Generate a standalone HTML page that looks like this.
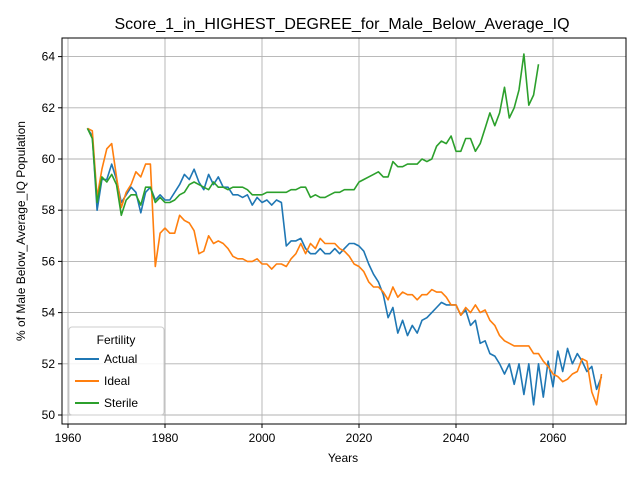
<!DOCTYPE html>
<html><head><meta charset="utf-8"><style>
body{margin:0;background:#fff;font-family:"Liberation Sans","DejaVu Sans",sans-serif}
svg{display:block}
</style></head><body>
<svg id="chart" width="640" height="480" xmlns="http://www.w3.org/2000/svg" font-family="Liberation Sans, DejaVu Sans, sans-serif">
<rect width="640" height="480" fill="#fff"/>
<text x="342" y="29" text-anchor="middle" font-size="16">Score_1_in_HIGHEST_DEGREE_for_Male_Below_Average_IQ</text>
<g id="grid"></g><g id="lines"></g><g id="axes"></g>
<text x="343" y="462" text-anchor="middle" font-size="12">Years</text>
<text transform="translate(25,231) rotate(-90)" text-anchor="middle" font-size="12">% of Male Below_Average_IQ Population</text>
<g>
<rect x="69" y="327" width="95" height="88" rx="3" fill="#fff" fill-opacity="0.85" stroke="#ccc"/>
<text x="116" y="344" text-anchor="middle" font-size="12">Fertility</text>
<g><line x1="75" y1="359" x2="99" y2="359" stroke="#1f77b4" stroke-width="2"/><text x="104" y="363" font-size="12">Actual</text></g>
<g><line x1="75" y1="381" x2="99" y2="381" stroke="#ff7f0e" stroke-width="2"/><text x="104" y="385" font-size="12">Ideal</text></g>
<g><line x1="75" y1="403" x2="99" y2="403" stroke="#2ca02c" stroke-width="2"/><text x="104" y="407" font-size="12">Sterile</text></g>
</g>
</svg>
<script>
const xTicks=[1960,1980,2000,2020,2040,2060];
const yTicks=[50,52,54,56,58,60,62,64];
const startYear=1964;
const actual=[61.2,60.9,58.0,59.2,59.2,59.8,59.2,58.3,58.6,58.9,58.7,57.9,58.7,58.9,58.4,58.6,58.4,58.4,58.7,59.0,59.4,59.2,59.6,59.1,58.8,59.4,59.0,59.3,58.9,58.9,58.6,58.6,58.5,58.6,58.2,58.5,58.3,58.4,58.2,58.4,58.3,56.6,56.8,56.8,56.9,56.5,56.3,56.3,56.5,56.3,56.3,56.5,56.3,56.5,56.7,56.7,56.6,56.4,55.9,55.5,55.2,54.7,53.8,54.2,53.2,53.7,53.1,53.5,53.2,53.7,53.8,54.0,54.2,54.4,54.3,54.3,54.3,53.9,54.1,53.5,53.7,52.8,52.9,52.4,52.3,52.0,51.6,52.0,51.2,52.0,50.8,52.0,50.4,52.0,50.7,52.1,51.1,52.5,51.7,52.6,52.0,52.4,52.1,51.7,51.9,51.0,51.5];
const ideal=[61.2,61.1,58.5,59.6,60.4,60.6,59.3,58.1,58.7,59.0,59.5,59.3,59.8,59.8,55.8,57.1,57.3,57.1,57.1,57.8,57.6,57.5,57.2,56.3,56.4,57.0,56.7,56.8,56.7,56.5,56.2,56.1,56.1,56.0,56.0,56.1,55.9,55.9,55.7,55.9,55.9,55.8,56.1,56.3,56.7,56.3,56.7,56.5,56.9,56.7,56.7,56.7,56.5,56.4,56.2,55.9,55.8,55.6,55.2,55.0,55.0,54.8,54.5,55.0,54.6,54.8,54.7,54.7,54.5,54.7,54.7,54.9,54.8,54.8,54.6,54.3,54.3,53.9,54.2,54.0,54.3,54.0,54.1,53.7,53.5,53.1,52.9,52.8,52.7,52.7,52.7,52.7,52.4,52.4,52.1,51.9,51.6,51.5,51.3,51.4,51.6,51.7,52.2,52.1,50.9,50.4,51.6];
const sterile=[61.2,60.8,58.3,59.3,59.1,59.4,59.0,57.8,58.4,58.6,58.6,58.2,58.9,58.9,58.3,58.5,58.3,58.3,58.4,58.6,58.7,59.0,59.1,59.0,58.9,58.8,59.1,58.9,58.9,58.8,58.9,58.9,58.9,58.8,58.6,58.6,58.6,58.7,58.7,58.7,58.7,58.7,58.8,58.8,58.9,58.9,58.5,58.6,58.5,58.5,58.6,58.7,58.7,58.8,58.8,58.8,59.1,59.2,59.3,59.4,59.5,59.3,59.3,59.9,59.7,59.7,59.8,59.8,59.8,60.0,59.9,60.0,60.5,60.7,60.6,60.9,60.3,60.3,60.8,60.8,60.3,60.6,61.2,61.8,61.3,61.8,62.8,61.6,62.0,62.7,64.1,62.1,62.5,63.7];
const NS='http://www.w3.org/2000/svg';
const L=62,R=626,T=38,B=424;
function xs(y){return 68+(y-1960)*4.85;}
function ys(v){return 415-(v-50)*25.6;}
function mk(tag,attrs,parent){const e=document.createElementNS(NS,tag);for(const k in attrs)e.setAttribute(k,attrs[k]);parent.appendChild(e);return e;}
const grid=document.getElementById('grid'),lines=document.getElementById('lines'),axes=document.getElementById('axes');
xTicks.forEach(t=>{const x=xs(t);
 const g=mk('line',{x1:x,x2:x,y1:T,y2:B,stroke:'#b0b0b0','stroke-width':0.9},grid);
 
 
 mk('line',{x1:x,x2:x,y1:B,y2:B+4,stroke:'#000'},axes);
 const tx=mk('text',{x:x,y:B+18,'text-anchor':'middle','font-size':12},axes);tx.textContent=t;
 
 
});
yTicks.forEach(t=>{const y=ys(t);
 const g=mk('line',{x1:L,x2:R,y1:y,y2:y,stroke:'#b0b0b0','stroke-width':0.9},grid);
 
 
 mk('line',{x1:L-4,x2:L,y1:y,y2:y,stroke:'#000'},axes);
 const tx=mk('text',{x:L-7,y:y+4,'text-anchor':'end','font-size':12},axes);tx.textContent=t;
 
 
});
const frame=mk('rect',{x:L,y:T,width:R-L,height:B-T,fill:'none',stroke:'#000','stroke-width':1},axes);


[[actual,'#1f77b4','series-actual'],[ideal,'#ff7f0e','series-ideal'],[sterile,'#2ca02c','series-sterile']].forEach(([d,c,n])=>{
 const pts=d.map((v,i)=>xs(startYear+i).toFixed(1)+','+ys(v).toFixed(1)).join(' ');
 const p=mk('polyline',{points:pts,fill:'none',stroke:c,'stroke-width':1.6,'stroke-linejoin':'round'},lines);
 
 
});
</script>
</body></html>
